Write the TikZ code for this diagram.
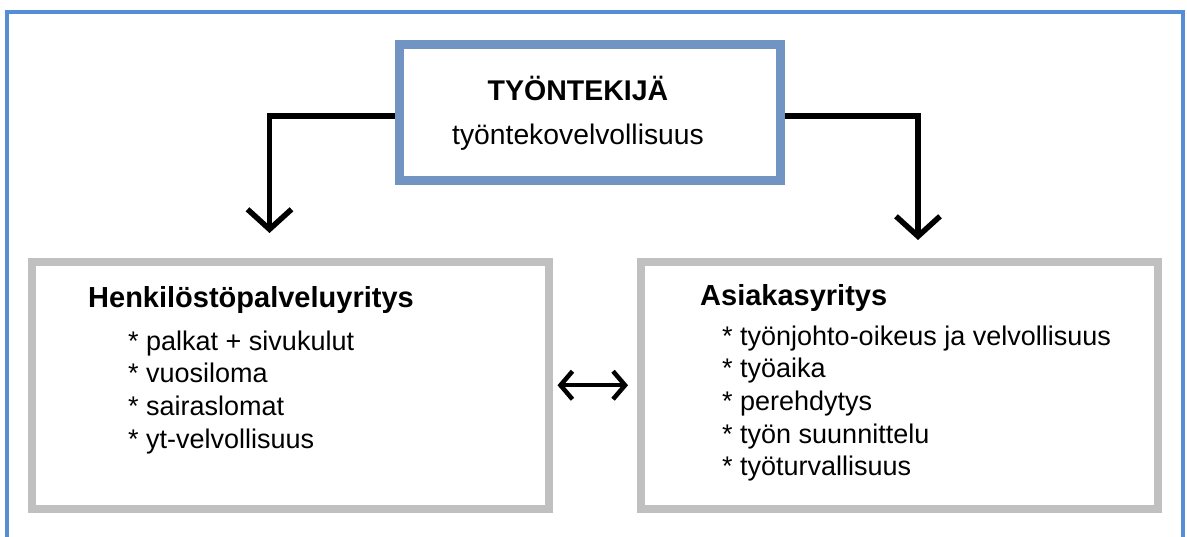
\documentclass[tikz,border=0pt]{standalone}
\usepackage{fontspec}
\setmainfont{Liberation Sans}
\usetikzlibrary{arrows.meta}
\definecolor{frameblue}{RGB}{85,142,213}
\definecolor{topblue}{RGB}{114,148,194}
\definecolor{boxgray}{RGB}{192,192,192}
\begin{document}
\begin{tikzpicture}[x=1pt,y=-1pt,
  topbox/.style={draw=topblue,line width=9pt,fill=white,minimum width=380.5pt,minimum height=136.5pt,inner sep=0pt,outer sep=0pt},
  graybox/.style={draw=boxgray,line width=8pt,fill=white,minimum width=517pt,minimum height=246.5pt,inner sep=0pt,outer sep=0pt},
  head/.style={font=\fontsize{29}{33}\selectfont\bfseries,inner sep=0pt,anchor=base west},
  item/.style={font=\fontsize{27}{32.7}\selectfont,inner sep=0pt,anchor=base west,align=left},
  conn/.style={line width=5.5pt,-{Straight Barb[length=20pt,width=44pt]}},
  dconn/.style={line width=4.5pt,{Straight Barb[length=12pt,width=28pt]}-{Straight Barb[length=12pt,width=28pt]}}]
\useasboundingbox (0,0) rectangle (1187,537);
\draw[frameblue,line width=4pt] (6.5,600) -- (6.5,12.5) -- (1183,12.5) -- (1183,600);
\node[topbox] (top) at (589.75,112.75) {};
\node[graybox] (left) at (290,385.25) {};
\node[graybox] (right) at (899.5,385.25) {};
\node[font=\fontsize{28.5}{33}\selectfont\bfseries,inner sep=0pt,anchor=base] (t1) at (578,101) {TYÖNTEKIJÄ};
\node[font=\fontsize{28.3}{33}\selectfont,inner sep=0pt,anchor=base] (t2) at (578,145) {työntekovelvollisuus};
\node[head] (lh) at (88,308) {Henkilöstöpalveluyritys};
\node[item] (li) at (128,448.1) {* palkat + sivukulut\\* vuosiloma\\* sairaslomat\\* yt-velvollisuus};
\node[head] (rh) at (700,306) {Asiakasyritys};
\node[item] (ri) at (722,475.8) {* työnjohto-oikeus ja velvollisuus\\* työaika\\* perehdytys\\* työn suunnittelu\\* työturvallisuus};
\coordinate (lt) at (269.5,233);
\coordinate (rt) at (918,240);
\draw[conn] ([yshift=-3.25pt,xshift=-4.5pt]top.west) -| (lt);
\draw[conn] ([yshift=-3.25pt,xshift=4.5pt]top.east) -| (rt);
\draw[dconn,shorten <=9pt,shorten >=13pt] (left.east) -- (right.west);
\end{tikzpicture}
\end{document}
